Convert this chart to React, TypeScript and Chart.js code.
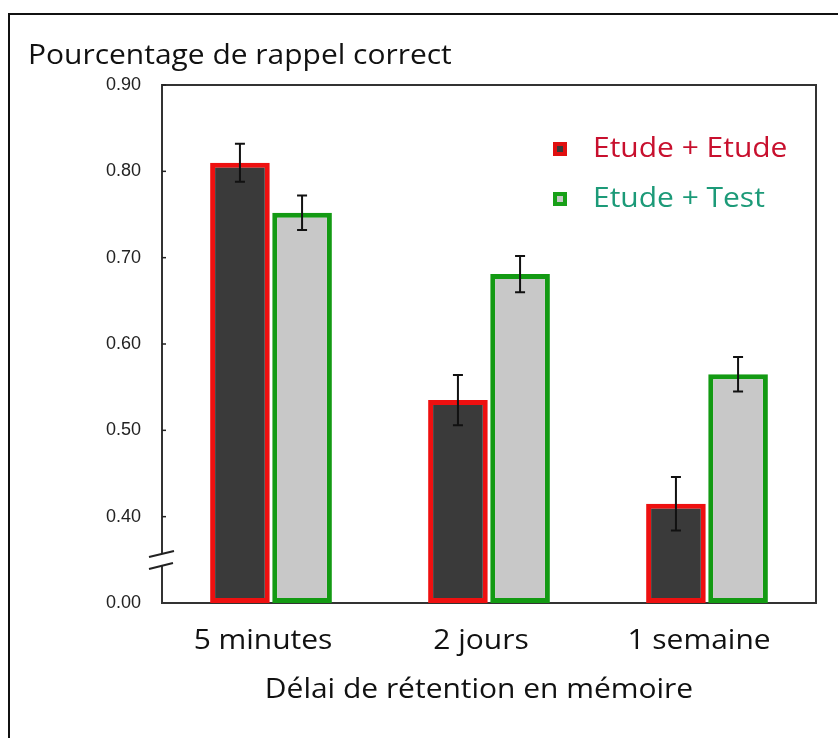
import React, { useEffect, useRef } from "react";
import { Chart, registerables } from "chart.js";

Chart.register(...registerables);

const categories = ["5 minutes", "2 jours", "1 semaine"];
const seriesNames = ["Etude + Etude", "Etude + Test"];
const etudeEtude = [0.81, 0.535, 0.415];
const etudeTest = [0.752, 0.681, 0.565];
const errEtudeEtude = [0.022, 0.029, 0.031];
const errEtudeTest = [0.02, 0.021, 0.02];
const yTickValues = [0.3, 0.4, 0.5, 0.6, 0.7, 0.8, 0.9];
const yTickLabels = ["0.00", "0.40", "0.50", "0.60", "0.70", "0.80", "0.90"];
const yAxisTitle = "Pourcentage de rappel correct";
const xAxisTitle = "Délai de rétention en mémoire";

const FONT = "'Open Sans', sans-serif";
const SX = 1.07;

function drawText(ctx: any, text: string, x: number, y: number, align: string, sx: number) {
  ctx.save();
  ctx.translate(x, y);
  ctx.scale(sx, 1);
  ctx.textAlign = align;
  ctx.fillText(text, 0, 0);
  ctx.restore();
}

const decorPlugin = {
  id: "decor",
  beforeDraw(chart: any) {
    const ctx = chart.ctx;
    ctx.save();
    ctx.fillStyle = "#ffffff";
    ctx.fillRect(0, 0, chart.width, chart.height);
    ctx.strokeStyle = "#111";
    ctx.lineWidth = 2;
    ctx.beginPath();
    ctx.moveTo(9, chart.height);
    ctx.lineTo(9, 14);
    ctx.lineTo(chart.width, 14);
    ctx.stroke();
    ctx.restore();
  },
  beforeDatasetsDraw(chart: any) {
    const ctx = chart.ctx;
    const a = chart.chartArea;
    const y = chart.scales.y;
    ctx.save();
    ctx.strokeStyle = "#333";
    ctx.lineWidth = 2;
    ctx.strokeRect(a.left, a.top, a.right - a.left, a.bottom - a.top);
    ctx.lineWidth = 1.5;
    ctx.strokeStyle = "#222";
    yTickValues.forEach((v) => {
      if (v <= 0.3) return;
      const py = y.getPixelForValue(v);
      ctx.beginPath();
      ctx.moveTo(a.left, py);
      ctx.lineTo(a.left + 4, py);
      ctx.stroke();
    });
    ctx.restore();
  },
  afterDatasetsDraw(chart: any) {
    const ctx = chart.ctx;
    const y = chart.scales.y;
    const errs = [errEtudeEtude, errEtudeTest];
    ctx.save();
    ctx.strokeStyle = "#111";
    ctx.lineWidth = 2;
    chart.data.datasets.forEach((ds: any, di: number) => {
      const meta = chart.getDatasetMeta(di);
      meta.data.forEach((bar: any, i: number) => {
        const v = ds.data[i];
        const e = errs[di][i];
        const x = bar.x;
        const top = y.getPixelForValue(v + e);
        const bot = y.getPixelForValue(v - e);
        ctx.beginPath();
        ctx.moveTo(x, top);
        ctx.lineTo(x, bot);
        ctx.moveTo(x - 5, top);
        ctx.lineTo(x + 5, top);
        ctx.moveTo(x - 5, bot);
        ctx.lineTo(x + 5, bot);
        ctx.stroke();
      });
    });
    ctx.restore();
  },
  afterDraw(chart: any) {
    const ctx = chart.ctx;
    const a = chart.chartArea;
    const y = chart.scales.y;
    const xs = chart.scales.x;
    ctx.save();
    // axis break
    const mid = y.getPixelForValue(0.351);
    ctx.fillStyle = "#fff";
    ctx.fillRect(a.left - 3, mid - 6, 6, 12);
    ctx.strokeStyle = "#222";
    ctx.lineWidth = 2;
    ctx.beginPath();
    ctx.moveTo(a.left - 13, mid - 2);
    ctx.lineTo(a.left + 12, mid - 8);
    ctx.moveTo(a.left - 13, mid + 10);
    ctx.lineTo(a.left + 11, mid + 4);
    ctx.stroke();

    // title
    ctx.fillStyle = "#111";
    ctx.font = `28px ${FONT}`;
    ctx.textBaseline = "alphabetic";
    drawText(ctx, yAxisTitle, 28, 64, "left", SX);

    // category labels
    ctx.textBaseline = "middle";
    categories.forEach((c, i) => {
      drawText(ctx, c, xs.getPixelForValue(i) - 8, 641, "center", SX);
    });

    // x axis title
    drawText(ctx, xAxisTitle, 479, 690, "center", SX);

    // legend
    const legendColors = [
      { border: "#e01010", fill: "#3a3a3a", text: "#c8102e" },
      { border: "#18a018", fill: "#c8c8c8", text: "#1c9a78" },
    ];
    const ys = [149, 199];
    seriesNames.forEach((name, i) => {
      const c = legendColors[i];
      const cy = ys[i];
      ctx.fillStyle = c.border;
      ctx.fillRect(553, cy - 7, 14, 14);
      ctx.fillStyle = c.fill;
      ctx.fillRect(557, cy - 3, 6, 6);
      ctx.fillStyle = c.text;
      ctx.textBaseline = "middle";
      ctx.font = `28px ${FONT}`;
      drawText(ctx, name, 593, cy, "left", SX);
    });
    ctx.restore();
  },
};

export default function App() {
  const ref = useRef<HTMLCanvasElement | null>(null);
  useEffect(() => {
    if (!ref.current) return;
    const chart = new Chart(ref.current, {
      type: "bar",
      data: {
        labels: categories,
        datasets: [
          {
            label: seriesNames[0],
            data: etudeEtude,
            base: 0.3,
            backgroundColor: "#3a3a3a",
            borderColor: "#ee1010",
            borderWidth: 5,
            borderSkipped: false,
            categoryPercentage: 0.57,
            barPercentage: 0.96,
          } as any,
          {
            label: seriesNames[1],
            data: etudeTest,
            base: 0.3,
            backgroundColor: "#c8c8c8",
            borderColor: "#139a13",
            borderWidth: 5,
            borderSkipped: false,
            categoryPercentage: 0.57,
            barPercentage: 0.96,
          } as any,
        ],
      },
      options: {
        responsive: false,
        animation: false,
        devicePixelRatio: 1,
        layout: { padding: { top: 85, right: 22, bottom: 0, left: 0 } },
        plugins: {
          legend: { display: false },
          title: { display: false },
          tooltip: { enabled: false },
        },
        scales: {
          x: {
            grid: { display: false },
            border: { display: false },
            ticks: { display: false },
            afterFit: (s: any) => {
              s.height = 135;
            },
          },
          y: {
            min: 0.3,
            max: 0.9,
            afterBuildTicks: (s: any) => {
              s.ticks = yTickValues.map((v) => ({ value: v }));
            },
            grid: { display: false },
            border: { display: false },
            ticks: {
              color: "#222",
              font: { family: "'Liberation Sans', Arial, sans-serif", size: 18 },
              padding: 13,
              callback: (v: any) => {
                const idx = yTickValues.findIndex((t) => Math.abs(t - Number(v)) < 1e-6);
                return idx >= 0 ? yTickLabels[idx] : "";
              },
            },
            afterFit: (s: any) => {
              s.width = 162;
            },
          },
        },
      },
      plugins: [decorPlugin],
    });
    return () => chart.destroy();
  }, []);
  return (
    <div style={{ position: "fixed", left: 0, top: 0, width: 838, height: 738, background: "#fff" }}>
      <canvas ref={ref} width={838} height={738} style={{ display: "block" }} />
    </div>
  );
}
